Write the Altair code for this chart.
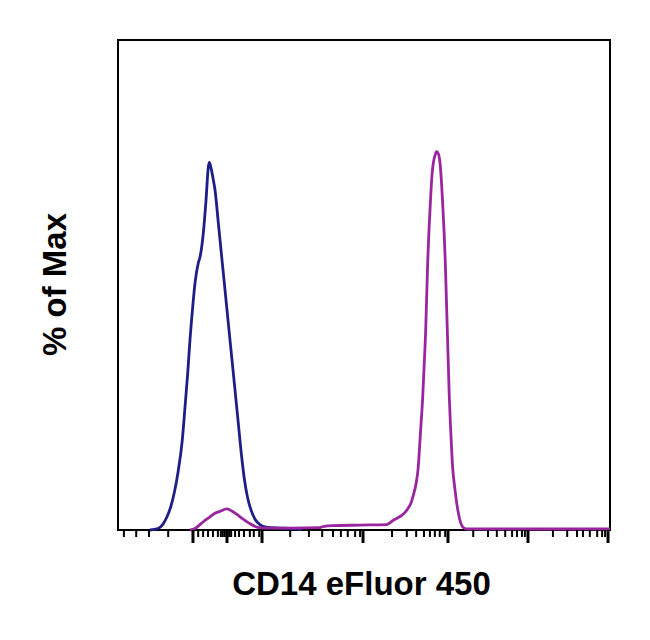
import altair as alt
import pandas as pd

# x: display channel (0-1000, biexponential display), y: % of Max
blue_x = [65.0, 81.3, 91.5, 99.6, 107.7, 114.8, 122.0, 130.7, 136.2, 141.7, 146.3, 151.8,
          156.5, 163.2, 166.7, 173.4, 178.9, 183.6, 185.6, 189.0, 193.1, 197.2, 203.9, 210.8,
          217.5, 224.2, 231.1, 237.8, 244.5, 251.4, 257.1, 263.2, 270.3, 278.5, 288.6, 300.8,
          329.3, 353.7, 374.0]
blue_y = [0.0, 0.3, 1.2, 2.7, 4.9, 7.8, 11.8, 18.4, 25.1, 32.0, 38.8, 45.5,
          50.4, 54.5, 55.7, 60.6, 67.3, 74.1, 75.0, 73.9, 71.8, 69.4, 62.7, 55.7,
          49.0, 42.2, 35.3, 28.6, 21.8, 14.9, 10.2, 6.7, 4.1, 2.2, 1.1, 0.6,
          0.4, 0.3, 0.1]

purple_x = [146.3, 156.5, 170.1, 178.9, 187.0, 197.2, 207.3, 220.9, 227.6, 234.3, 248.0, 264.8,
            281.9, 298.8, 349.6, 410.6, 416.7, 437.0, 491.9, 546.1, 559.5, 567.0, 576.6, 583.3,
            590.0, 595.5, 600.2, 605.7, 609.7, 615.1, 619.3, 622.5, 625.4, 627.4, 629.4, 632.1,
            635.5, 638.2, 640.9, 644.4, 647.8, 651.5, 654.5, 659.2, 662.6, 665.3, 667.3, 669.3,
            671.3, 673.4, 676.2, 679.5, 685.0, 691.7, 700.6, 708.7, 1000.0]
purple_y = [0.0, 0.3, 1.4, 2.1, 2.7, 3.4, 3.8, 4.3, 4.1, 3.7, 2.7, 1.5,
            0.6, 0.4, 0.4, 0.5, 0.7, 0.9, 1.0, 1.1, 2.0, 2.4, 3.0, 3.6,
            4.5, 5.5, 7.1, 9.4, 12.2, 20.4, 27.1, 34.1, 40.8, 47.6, 54.5, 61.2,
            68.0, 72.4, 74.9, 76.5, 77.2, 76.7, 74.9, 68.0, 61.2, 54.5, 47.6, 40.8,
            34.1, 27.1, 20.4, 13.7, 8.2, 3.5, 0.6, 0.2, 0.2]

major_ticks = [152.4, 221.5, 292.7, 498.0, 670.7, 833.3, 996.0]
minor_ticks = [12, 37, 63, 102,
               163, 173, 183, 193, 203, 209, 213, 217, 226, 230,
               238, 246, 256, 268, 276, 287,
               350, 388, 415, 437, 453, 467, 482, 492,
               557, 587, 606, 622, 634, 644, 654, 665,
               722, 752, 770, 787, 801, 811, 821, 827,
               884, 913, 933, 945, 959, 974, 984, 990]

series_names = ["Unstained", "CD14 eFluor 450"]
series_colors = ["#1e1e86", "#9a269f"]

curves = pd.concat([
    pd.DataFrame({"x": blue_x, "y": blue_y, "series": series_names[0], "i": range(len(blue_x))}),
    pd.DataFrame({"x": purple_x, "y": purple_y, "series": series_names[1], "i": range(len(purple_x))}),
])

FONT = "Liberation Sans"
x_scale = alt.Scale(domain=[0, 1000], nice=False, zero=False)
y_scale = alt.Scale(domain=[0, 100], nice=False)

lines = alt.Chart(curves).mark_line(strokeWidth=2.8, interpolate="monotone").encode(
    x=alt.X("x:Q", scale=x_scale,
            axis=alt.Axis(title="CD14 eFluor 450", ticks=False, labels=False, domain=False,
                          grid=False, titleFontSize=33, titleFont=FONT, titleFontWeight="bold",
                          titleColor="black", titleBaseline="alphabetic", titleX=243, titleY=64)),
    y=alt.Y("y:Q", scale=y_scale,
            axis=alt.Axis(title="% of Max", ticks=False, labels=False, domain=False, grid=False,
                          titleFontSize=33, titleFont=FONT, titleFontWeight="bold",
                          titleColor="black", titleBaseline="alphabetic", titleX=-53, titleY=244)),
    color=alt.Color("series:N", scale=alt.Scale(domain=series_names, range=series_colors), legend=None),
    order="i:Q",
)

majors = alt.Chart(pd.DataFrame({"t": major_ticks})).mark_rule(color="black", strokeWidth=3).encode(
    x=alt.X("t:Q", scale=x_scale), y=alt.value(490), y2=alt.value(503))
minors = alt.Chart(pd.DataFrame({"t": minor_ticks})).mark_rule(color="black", strokeWidth=2).encode(
    x=alt.X("t:Q", scale=x_scale), y=alt.value(490), y2=alt.value(497))

chart = alt.layer(lines, minors, majors).properties(
    width=492, height=490,
    background="white",
    autosize=alt.AutoSizeParams(type="none"),
    padding={"left": 110, "top": 32, "right": 20, "bottom": 90},
).configure_view(stroke="black", strokeWidth=2)

chart.save("out.html", embed_options={"renderer": "svg", "actions": False})
